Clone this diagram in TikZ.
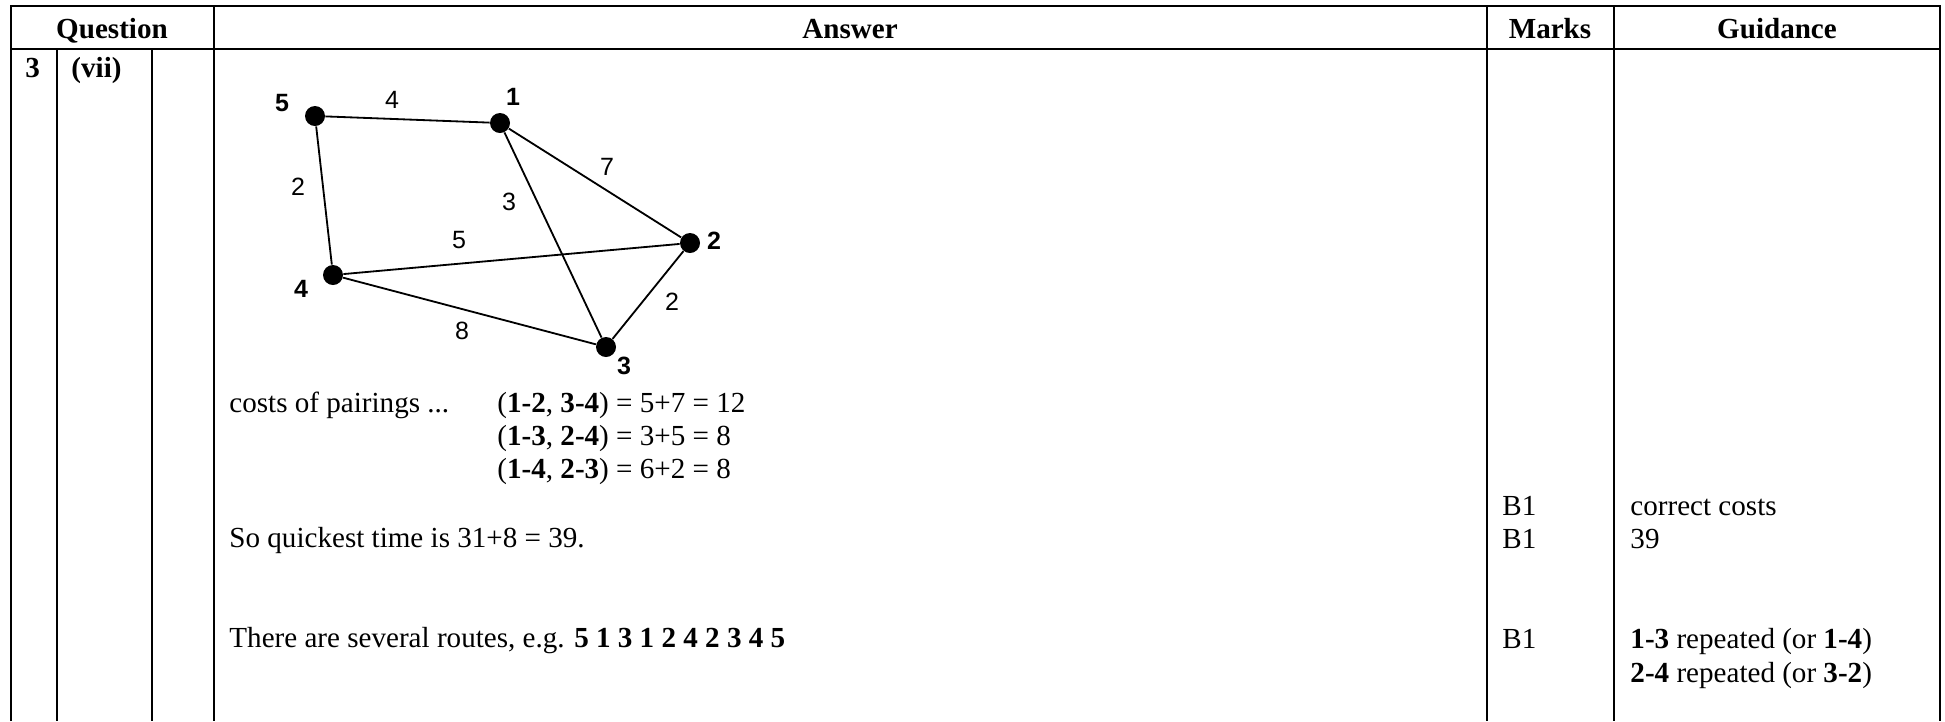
\documentclass[tikz,border=0pt]{standalone}
\usepackage{fontspec}
\setmainfont{Liberation Serif}
\newfontfamily\graphfont{Liberation Sans}
\usepackage{tikz}

\begin{document}
\begin{tikzpicture}[x=0.44pt,y=-0.44pt,
  rule/.style={line width=1pt},
  edge/.style={line width=0.8pt},
  vertex/.style={circle,fill=black,inner sep=0pt,minimum size=8.8pt},
  vname/.style={font=\graphfont\fontsize{11}{13}\selectfont\bfseries,inner sep=0pt},
  weight/.style={font=\graphfont\fontsize{11}{13}\selectfont,inner sep=0pt},
  txt/.style={font=\fontsize{12.8}{15}\selectfont,anchor=base west,inner sep=0pt},
  head/.style={font=\fontsize{12.8}{15}\selectfont\bfseries,anchor=base,inner sep=0pt}]
\useasboundingbox (0,0) rectangle (1945,721);
\draw[rule] (11,721) -- (11,6) -- (1940,6) -- (1940,721);
\draw[rule] (11,49) -- (1940,49);
\foreach \xx in {214,1487,1614} \draw[rule] (\xx,6) -- (\xx,721);
\foreach \xx in {57,152} \draw[rule] (\xx,49) -- (\xx,721);

\node[head] (hq) at (112,38) {Question};
\node[head] (ha) at (850,38) {Answer};
\node[head] (hm) at (1550,38) {Marks};
\node[head] (hg) at (1777,38) {Guidance};
\node[txt] (qnum) at (25,77) {\textbf{3}};
\node[txt] (qpart) at (71,77) {\textbf{(vii)}};

\node[vertex] (v5) at (315,116) {};
\node[vertex] (v1) at (500,123) {};
\node[vertex] (v2) at (690,243) {};
\node[vertex] (v4) at (333,275) {};
\node[vertex] (v3) at (606,347) {};
\draw[edge] (v5) -- (v1) -- (v2) -- (v3) -- (v4) -- (v5);
\draw[edge] (v1) -- (v3);
\draw[edge] (v4) -- (v2);
\node[vname] (n5) at (282,103) {5};
\node[vname] (n1) at (513,97) {1};
\node[vname] (n2) at (714,241) {2};
\node[vname] (n4) at (301,289) {4};
\node[vname] (n3) at (624,366) {3};
\node[weight] (w51) at (392,100) {4};
\node[weight] (w54) at (298,187) {2};
\node[weight] (w13) at (509,202) {3};
\node[weight] (w12) at (607,167) {7};
\node[weight] (w42) at (459,240) {5};
\node[weight] (w23) at (672,302) {2};
\node[weight] (w43) at (462,331) {8};

\node[txt] (costs) at (229,412) {costs of pairings ...};
\node[txt] (pair1) at (497,412) {(\textbf{1-2}, \textbf{3-4}) = 5+7 = 12};
\node[txt] (pair2) at (497,445) {(\textbf{1-3}, \textbf{2-4}) = 3+5 = 8};
\node[txt] (pair3) at (497,478) {(\textbf{1-4}, \textbf{2-3}) = 6+2 = 8};
\node[txt] (quick) at (229,547) {So quickest time is 31+8 = 39.};
\node[txt] (route) at (229,647) {There are several routes, e.g. \textbf{5 1 3 1 2 4 2 3 4 5}};

\node[txt] (mk1) at (1502,515) {B1};
\node[txt] (mk2) at (1502,548) {B1};
\node[txt] (mk3) at (1502,648) {B1};
\node[txt] (gd1) at (1630,515) {correct costs};
\node[txt] (gd2) at (1630,548) {39};
\node[txt] (gd3) at (1630,648) {\textbf{1-3} repeated (or \textbf{1-4})};
\node[txt] (gd4) at (1630,682) {\textbf{2-4} repeated (or \textbf{3-2})};
\end{tikzpicture}
\end{document}
